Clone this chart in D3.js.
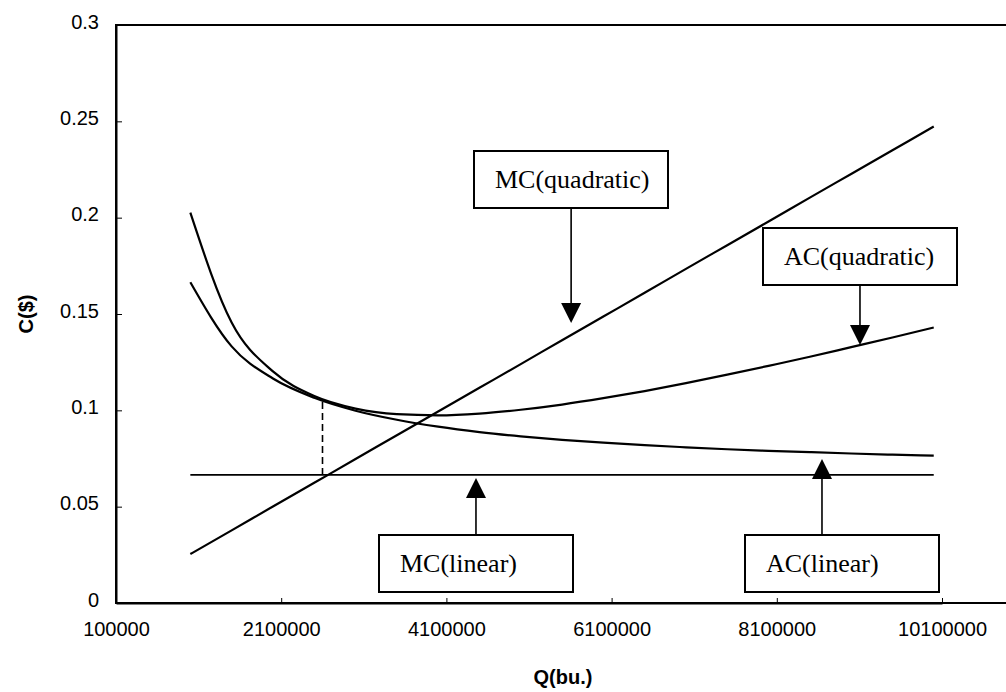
<!DOCTYPE html>
<html>
<head>
<meta charset="utf-8">
<script src="https://cdn.jsdelivr.net/npm/d3@7"></script>
<style>
  body { margin: 0; background: #fff; }
  svg { display: block; }
</style>
</head>
<body>
<div id="chart"></div>
<script>
// output levels (bushels)
var qValues = [1000000, 1500000, 2000000, 2500000, 3000000, 3500000, 4000000, 4500000, 5000000,
  5500000, 6000000, 6500000, 7000000, 7500000, 8000000, 8500000, 9000000, 9500000, 10000000];

var acLinear = [0.1665, 0.1332, 0.1165, 0.1065, 0.0998, 0.0951, 0.0915, 0.0887, 0.0865,
  0.0847, 0.0832, 0.0819, 0.0808, 0.0798, 0.0790, 0.0783, 0.0776, 0.0770, 0.0765];

var acQuadratic = [0.2026, 0.1456, 0.1202, 0.1074, 0.1009, 0.0980, 0.0974, 0.0983, 0.1003,
  0.1030, 0.1063, 0.1100, 0.1141, 0.1185, 0.1231, 0.1278, 0.1328, 0.1378, 0.1430];

var mcQuadratic = [0.0254, 0.0377, 0.0501, 0.0624, 0.0747, 0.0871, 0.0994, 0.1117, 0.1240,
  0.1364, 0.1487, 0.1610, 0.1734, 0.1857, 0.1980, 0.2104, 0.2227, 0.2350, 0.2473];

var mcLinearQ = [1000000, 10000000];
var mcLinear = [0.0665, 0.0665];

// dashed drop line
var dropQ = 2600000;
var dropC = [0.0665, 0.106];

var xTicks = [100000, 2100000, 4100000, 6100000, 8100000, 10100000];
var yTicks = [0, 0.05, 0.1, 0.15, 0.2, 0.25, 0.3];

var labels = ['MC(quadratic)', 'AC(quadratic)', 'MC(linear)', 'AC(linear)'];
var tipQ = [5610000, 9107000, 4458000, 8647000];
var tipC = [0.1453, 0.1339, 0.0649, 0.0747];

var width = 1006;
var height = 692;

var svg = d3.select('#chart')
  .append('svg')
  .attr('width', width)
  .attr('height', height);

var plotLeft = 116, plotTop = 25, plotBottom = 603, plotRight = 1010;

var x = d3.scaleLinear()
  .domain([100000, 10100000])
  .range([plotLeft, 942]);

var y = d3.scaleLinear()
  .domain([0, 0.3])
  .range([plotBottom, plotTop]);

// plot frame
svg.append('rect')
  .attr('x', plotLeft)
  .attr('y', plotTop)
  .attr('width', plotRight - plotLeft)
  .attr('height', plotBottom - plotTop)
  .attr('fill', 'none')
  .attr('stroke', '#000')
  .attr('stroke-width', 2);

var xAxis = svg.append('g')
  .attr('transform', 'translate(0,' + plotBottom + ')')
  .call(d3.axisBottom(x).tickValues(xTicks).tickFormat(d => d).tickSizeInner(-5).tickSizeOuter(0).tickPadding(19));

var yAxis = svg.append('g')
  .attr('transform', 'translate(' + plotLeft + ',0)')
  .call(d3.axisLeft(y).tickValues(yTicks).tickFormat(d => d).tickSizeInner(-6).tickSizeOuter(0).tickPadding(17));

[xAxis, yAxis].forEach(function(g) {
  g.select('.domain').attr('stroke-width', 2);
  g.selectAll('.tick line').attr('stroke-width', 1);
  g.selectAll('text')
    .attr('font-family', 'Liberation Sans, Arial, sans-serif')
    .attr('font-size', 20)
    .attr('fill', '#000');
});
yAxis.selectAll('text').attr('dy', '0.16em');

svg.append('text')
  .attr('transform', 'translate(33,314) rotate(-90)')
  .attr('text-anchor', 'middle')
  .attr('font-family', 'Liberation Sans, Arial, sans-serif')
  .attr('font-weight', 'bold')
  .attr('font-size', 20)
  .text('C($)');

svg.append('text')
  .attr('x', 563)
  .attr('y', 684)
  .attr('text-anchor', 'middle')
  .attr('font-family', 'Liberation Sans, Arial, sans-serif')
  .attr('font-weight', 'bold')
  .attr('font-size', 20)
  .text('Q(bu.)');

// curves
var line = d3.line()
  .x(d => x(d[0]))
  .y(d => y(d[1]))
  .curve(d3.curveMonotoneX);

var series = [
  d3.zip(qValues, acLinear),
  d3.zip(qValues, acQuadratic),
  d3.zip(qValues, mcQuadratic),
  d3.zip(mcLinearQ, mcLinear)
];

svg.selectAll('path.curve')
  .data(series)
  .enter()
  .append('path')
  .attr('class', 'curve')
  .attr('d', line)
  .attr('fill', 'none')
  .attr('stroke', '#000')
  .attr('stroke-width', (d, i) => i == 3 ? 1.6 : 2.2);

svg.append('line')
  .attr('x1', x(dropQ))
  .attr('x2', x(dropQ))
  .attr('y1', y(dropC[0]))
  .attr('y2', y(dropC[1]))
  .attr('stroke', '#000')
  .attr('stroke-width', 1.6)
  .attr('stroke-dasharray', '7,4');

// annotation boxes: [left, top] in px, arrow goes from box edge to tip
var boxes = [
  { bx: 474, by: 151, down: true },
  { bx: 763, by: 228, down: true },
  { bx: 379, by: 535, down: false },
  { bx: 745, by: 535, down: false }
];
var boxW = 194, boxH = 57;

labels.forEach(function(label, i) {
  var b = boxes[i];
  var tx = x(tipQ[i]);
  var ty = y(tipC[i]);
  var g = svg.append('g');

  g.append('rect')
    .attr('x', b.bx)
    .attr('y', b.by)
    .attr('width', boxW)
    .attr('height', boxH)
    .attr('fill', '#fff')
    .attr('stroke', '#000')
    .attr('stroke-width', 2);

  g.append('text')
    .attr('x', b.bx + 21)
    .attr('y', b.by + 37)
    .attr('font-family', 'Liberation Serif, Times New Roman, serif')
    .attr('font-size', 26)
    .text(label);

  var startY = b.down ? b.by + boxH : b.by;
  var headY = b.down ? ty - 20 : ty + 20;

  g.append('line')
    .attr('x1', tx)
    .attr('x2', tx)
    .attr('y1', startY)
    .attr('y2', headY)
    .attr('stroke', '#000')
    .attr('stroke-width', 1.6);

  g.append('path')
    .attr('d', 'M' + (tx - 10) + ',' + headY + 'L' + (tx + 10) + ',' + headY + 'L' + tx + ',' + ty + 'Z')
    .attr('fill', '#000');
});
</script>
</body>
</html>
